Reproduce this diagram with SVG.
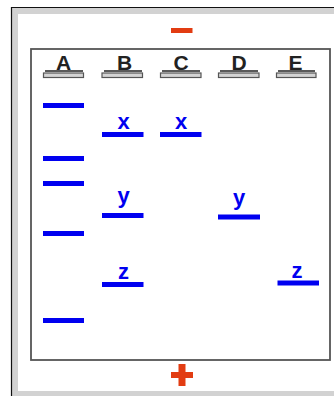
<svg xmlns="http://www.w3.org/2000/svg" width="334" height="396" viewBox="0 0 334 396">
<style>
.lbl{font-family:"Liberation Sans",Arial,sans-serif;font-weight:bold;font-size:21px;fill:#222;text-anchor:middle}
.ul{stroke:#222;stroke-width:1.5}
.well{fill:#d4d4d4;stroke:#555;stroke-width:1.2}
.band{fill:#0000f0}
.bl{font-family:"Liberation Sans",Arial,sans-serif;font-weight:bold;font-size:22px;fill:#0000f0;text-anchor:middle}
.pole{fill:#e23c12}
</style>
<g id="frame">
<rect x="12" y="8" width="330" height="400" fill="#d2d2d2"/>
<rect x="18" y="14" width="330" height="377" fill="#fff"/>
<line x1="11.5" y1="7" x2="11.5" y2="396" stroke="#111" stroke-width="1.2"/>
<line x1="11" y1="7.5" x2="334" y2="7.5" stroke="#111" stroke-width="1.2"/>
<rect x="31" y="49" width="299" height="311" fill="none" stroke="#555" stroke-width="1.8"/>
</g>
<g id="minus"><rect class="pole" x="171" y="28" width="21.5" height="5"/></g>
<g id="plus">
<rect class="pole" x="171" y="372" width="22" height="6"/>
<rect class="pole" x="178.5" y="364" width="7" height="22"/>
</g>
<g id="laneA">
<text class="lbl" x="63.5" y="69.5">A</text>
<line class="ul" x1="45" y1="71" x2="83" y2="71"/>
<rect class="well" x="43.5" y="73" width="40" height="4.5"/>
<rect class="band" x="43" y="103" width="41" height="5"/>
<rect class="band" x="43" y="156" width="41" height="5"/>
<rect class="band" x="43" y="181" width="41" height="5"/>
<rect class="band" x="43" y="231" width="41" height="5"/>
<rect class="band" x="43" y="318" width="41" height="5"/>
</g>
<g id="laneB">
<text class="lbl" x="124.5" y="69.5">B</text>
<line class="ul" x1="104" y1="71" x2="142" y2="71"/>
<rect class="well" x="102" y="73" width="40.5" height="4.5"/>
<text class="bl" x="123.5" y="128.5">x</text>
<rect class="band" x="102" y="132" width="41.5" height="5"/>
<text class="bl" x="123.5" y="203">y</text>
<rect class="band" x="102" y="213" width="41.5" height="5"/>
<text class="bl" x="123.5" y="279">z</text>
<rect class="band" x="102" y="282" width="41.5" height="5"/>
</g>
<g id="laneC">
<text class="lbl" x="181" y="69.5">C</text>
<line class="ul" x1="162" y1="71" x2="200" y2="71"/>
<rect class="well" x="160.5" y="73" width="40.5" height="4.5"/>
<text class="bl" x="181" y="128.5">x</text>
<rect class="band" x="160" y="132" width="41.5" height="5"/>
</g>
<g id="laneD">
<text class="lbl" x="239" y="69.5">D</text>
<line class="ul" x1="220" y1="71" x2="258" y2="71"/>
<rect class="well" x="218.5" y="73" width="40.5" height="4.5"/>
<text class="bl" x="239" y="204.5">y</text>
<rect class="band" x="218" y="214.5" width="42" height="5"/>
</g>
<g id="laneE">
<text class="lbl" x="295.5" y="69.5">E</text>
<line class="ul" x1="278" y1="71" x2="315" y2="71"/>
<rect class="well" x="276.5" y="73" width="39.5" height="4.5"/>
<text class="bl" x="297" y="277.5">z</text>
<rect class="band" x="277.5" y="280.5" width="41.5" height="5"/>
</g>
<g id="connectors"></g>
</svg>
